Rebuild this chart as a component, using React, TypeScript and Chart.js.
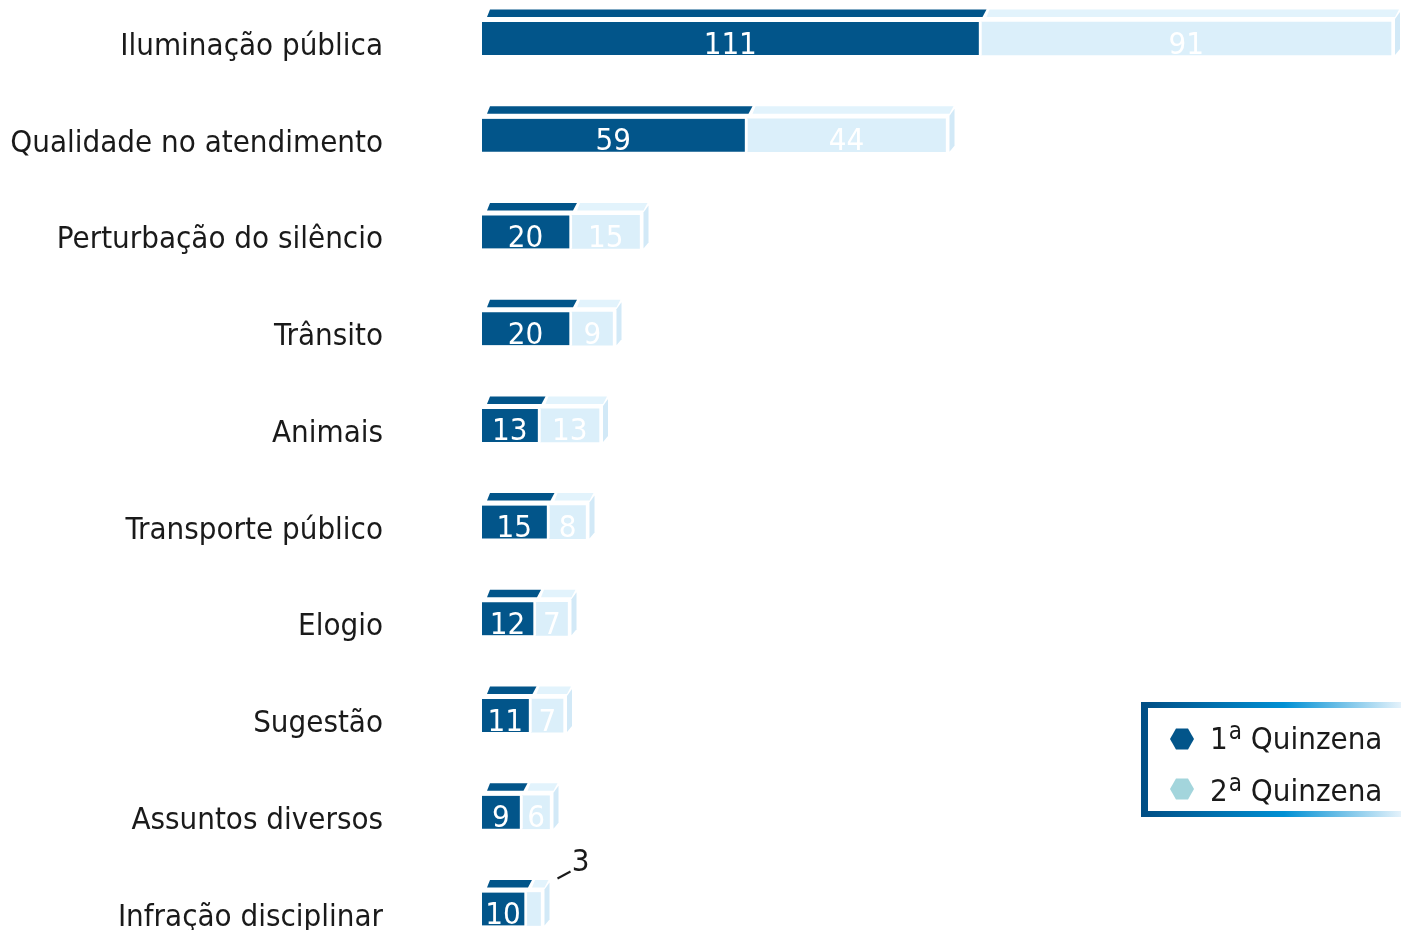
import { useEffect, useRef } from "react";
import { Chart, registerables } from "chart.js";

Chart.register(...registerables);

const categories = [
  "Iluminação pública",
  "Qualidade no atendimento",
  "Perturbação do silêncio",
  "Trânsito",
  "Animais",
  "Transporte público",
  "Elogio",
  "Sugestão",
  "Assuntos diversos",
  "Infração disciplinar",
];
const firstHalf = [111, 59, 20, 20, 13, 15, 12, 11, 9, 10];
const secondHalf = [91, 44, 15, 9, 13, 8, 7, 7, 6, 3];
const seriesNumbers = ["1", "2"];
const seriesWord = " Quinzena";
const seriesNames = seriesNumbers.map((n) => n + "ª" + seriesWord);

const FONT = "'DejaVu Sans Condensed', 'DejaVu Sans', sans-serif";
const DARK = "#02558a";
const LIGHT = "#dbeffa";
const LIGHT_TOP = "#e2f3fc";
const LIGHT_SIDE = "#d2e9f7";
const LEGEND_LIGHT = "#a3d5dc";
const TEXT = "#1a1a1a";

function poly(ctx: CanvasRenderingContext2D, pts: number[][], color: string) {
  ctx.beginPath();
  ctx.moveTo(pts[0][0], pts[0][1]);
  for (let i = 1; i < pts.length; i++) ctx.lineTo(pts[i][0], pts[i][1]);
  ctx.closePath();
  ctx.fillStyle = color;
  ctx.fill();
}

function hexagon(ctx: CanvasRenderingContext2D, cx: number, cy: number, r: number, color: string) {
  const pts: number[][] = [];
  for (let k = 0; k < 6; k++) {
    const a = (k * Math.PI) / 3;
    pts.push([cx + r * Math.cos(a), cy + r * Math.sin(a)]);
  }
  poly(ctx, pts, color);
}

const facePlugin = {
  id: "faces3d",
  beforeDatasetsDraw(chart: any) {
    const ctx: CanvasRenderingContext2D = chart.ctx;
    const m0 = chart.getDatasetMeta(0).data;
    const m1 = chart.getDatasetMeta(1).data;
    ctx.save();
    for (let i = 0; i < categories.length; i++) {
      const d = m0[i];
      const l = m1[i];
      const yT = d.y - d.height / 2;
      const yB = d.y + d.height / 2;
      const dx0 = d.base;
      const dx1 = d.x - 3;
      poly(ctx, [[dx0 + 5, yT - 5], [dx1 + 4, yT - 5], [dx1 + 8, yT - 12.5], [dx0 + 8, yT - 12.5]], DARK);
      const lx0 = l.base;
      const lx1 = l.x;
      poly(ctx, [[lx0 + 5, yT - 5], [lx1 + 4, yT - 5], [lx1 + 8, yT - 12.5], [lx0 + 8, yT - 12.5]], LIGHT_TOP);
      poly(ctx, [[lx1 + 4, yT - 3], [lx1 + 9, yT - 10], [lx1 + 9, yB - 6], [lx1 + 4, yB]], LIGHT_SIDE);
    }
    ctx.restore();
  },
  afterDatasetsDraw(chart: any) {
    const ctx: CanvasRenderingContext2D = chart.ctx;
    const m0 = chart.getDatasetMeta(0).data;
    const m1 = chart.getDatasetMeta(1).data;
    ctx.save();
    ctx.font = `31px ${FONT}`;
    ctx.textBaseline = "alphabetic";
    for (let i = 0; i < categories.length; i++) {
      const d = m0[i];
      const l = m1[i];
      const yT = d.y - d.height / 2;
      ctx.textAlign = "center";
      ctx.fillStyle = "#ffffff";
      ctx.fillText(String(firstHalf[i]), (d.base + d.x - 3) / 2, d.y + 15);
      if (secondHalf[i] >= 5) {
        ctx.fillText(String(secondHalf[i]), (l.base + l.x) / 2, d.y + 15);
      } else {
        const x1 = l.x;
        ctx.strokeStyle = TEXT;
        ctx.lineWidth = 2;
        ctx.beginPath();
        ctx.moveTo(x1 + 17, yT - 14);
        ctx.lineTo(x1 + 30, yT - 21);
        ctx.stroke();
        ctx.fillStyle = TEXT;
        ctx.fillText(String(secondHalf[i]), x1 + 40, yT - 22);
      }
    }
    ctx.restore();
  },
  afterDraw(chart: any) {
    const ctx: CanvasRenderingContext2D = chart.ctx;
    const y = chart.scales.y;
    ctx.save();
    ctx.font = `31px ${FONT}`;
    ctx.fillStyle = TEXT;
    ctx.textAlign = "right";
    ctx.textBaseline = "alphabetic";
    for (let i = 0; i < categories.length; i++) {
      ctx.fillText(categories[i], 383, y.getPixelForValue(i) + 16.5);
    }
    // legend
    const g = ctx.createLinearGradient(1141, 0, 1401, 0);
    g.addColorStop(0, "#004d84");
    g.addColorStop(0.55, "#0090d4");
    g.addColorStop(1, "#e4f2fb");
    ctx.fillStyle = g;
    ctx.fillRect(1141, 702, 262, 115);
    ctx.fillStyle = "#ffffff";
    ctx.fillRect(1148, 708, 255, 103);
    hexagon(ctx, 1182, 739, 12, DARK);
    hexagon(ctx, 1182, 789, 12, LEGEND_LIGHT);
    ctx.fillStyle = TEXT;
    ctx.textAlign = "left";
    const baselines = [749, 801];
    for (let k = 0; k < 2; k++) {
      let x = 1210;
      ctx.font = `31px ${FONT}`;
      ctx.fillText(seriesNumbers[k], x, baselines[k]);
      x += ctx.measureText(seriesNumbers[k]).width + 1;
      ctx.font = `24px ${FONT}`;
      ctx.fillText("a", x, baselines[k] - 10);
      x += ctx.measureText("a").width;
      ctx.font = `31px ${FONT}`;
      ctx.fillText(seriesWord, x, baselines[k]);
    }
    ctx.restore();
  },
};

export default function App() {
  const ref = useRef<HTMLCanvasElement>(null);
  useEffect(() => {
    const canvas = ref.current!;
    const chart = new Chart(canvas, {
      type: "bar",
      data: {
        labels: categories,
        datasets: [
          {
            label: seriesNames[0],
            data: firstHalf,
            backgroundColor: DARK,
            borderColor: "#ffffff",
            borderWidth: { top: 0, right: 3, bottom: 0, left: 0 },
            borderSkipped: false,
            barThickness: 33,
            clip: false,
          } as any,
          {
            label: seriesNames[1],
            data: secondHalf,
            backgroundColor: LIGHT,
            borderWidth: 0,
            barThickness: 33,
            clip: false,
          } as any,
        ],
      },
      options: {
        indexAxis: "y",
        responsive: false,
        animation: false,
        devicePixelRatio: 1,
        layout: { padding: { left: 482, right: 1, top: 38.5, bottom: 21 } },
        scales: {
          x: { stacked: true, min: 0, max: 204, display: false },
          y: { stacked: true, offset: false, display: false },
        },
        plugins: { legend: { display: false }, tooltip: { enabled: false } },
      } as any,
      plugins: [facePlugin],
    });
    return () => chart.destroy();
  }, []);
  return (
    <div style={{ position: "absolute", left: 0, top: 0, width: 1401, height: 930, background: "#ffffff" }}>
      <canvas ref={ref} width={1401} height={930} style={{ display: "block", width: 1401, height: 930 }} />
    </div>
  );
}
